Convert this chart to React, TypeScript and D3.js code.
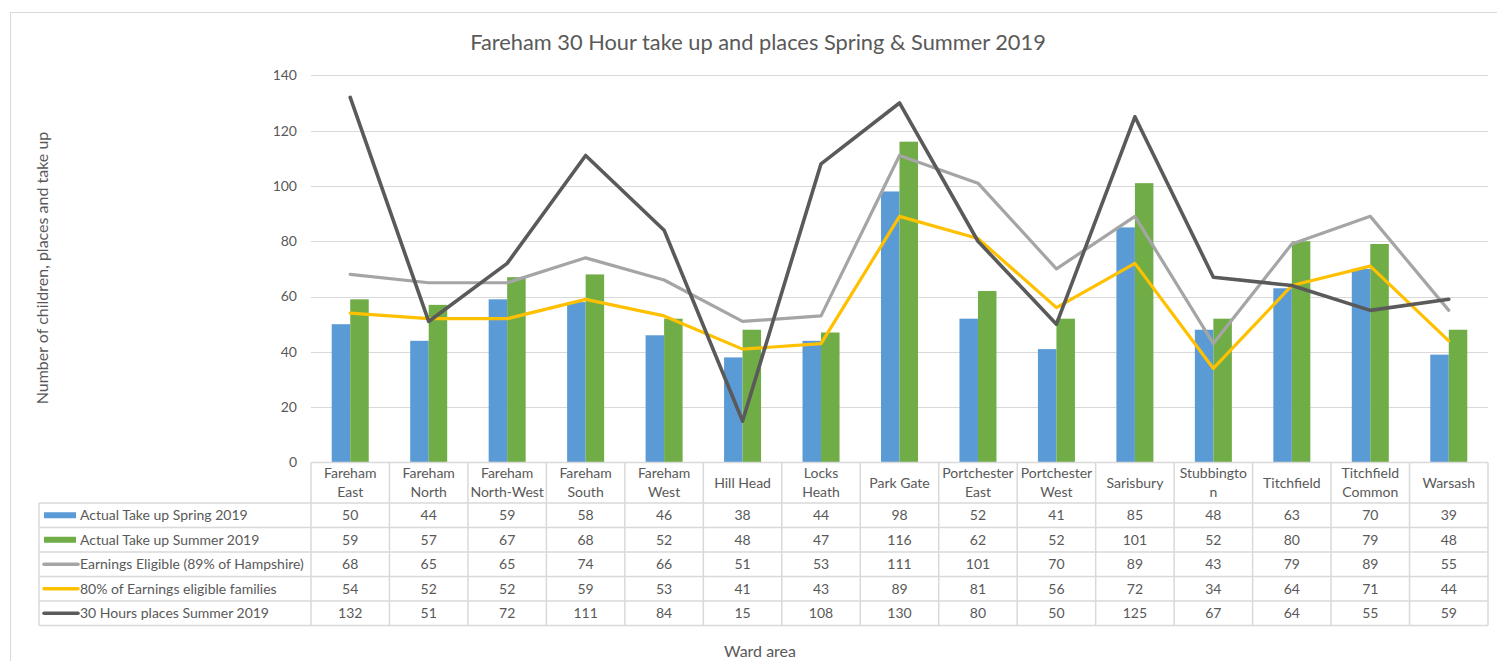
import React, { useEffect, useRef } from "react";
import * as d3 from "d3";

const categories = [
  "Fareham East",
  "Fareham North",
  "Fareham North-West",
  "Fareham South",
  "Fareham West",
  "Hill Head",
  "Locks Heath",
  "Park Gate",
  "Portchester East",
  "Portchester West",
  "Sarisbury",
  "Stubbington",
  "Titchfield",
  "Titchfield Common",
  "Warsash",
];
// how Excel wrapped the labels in the table header
const categoryLines = [
  ["Fareham", "East"],
  ["Fareham", "North"],
  ["Fareham", "North-West"],
  ["Fareham", "South"],
  ["Fareham", "West"],
  ["Hill Head"],
  ["Locks", "Heath"],
  ["Park Gate"],
  ["Portchester", "East"],
  ["Portchester", "West"],
  ["Sarisbury"],
  ["Stubbingto", "n"],
  ["Titchfield"],
  ["Titchfield", "Common"],
  ["Warsash"],
];

const spring = [50, 44, 59, 58, 46, 38, 44, 98, 52, 41, 85, 48, 63, 70, 39];
const summer = [59, 57, 67, 68, 52, 48, 47, 116, 62, 52, 101, 52, 80, 79, 48];
const eligible = [68, 65, 65, 74, 66, 51, 53, 111, 101, 70, 89, 43, 79, 89, 55];
const eligible80 = [54, 52, 52, 59, 53, 41, 43, 89, 81, 56, 72, 34, 64, 71, 44];
const places = [132, 51, 72, 111, 84, 15, 108, 130, 80, 50, 125, 67, 64, 55, 59];

const yTicks = [0, 20, 40, 60, 80, 100, 120, 140];

const seriesNames = [
  "Actual Take up Spring 2019",
  "Actual Take up Summer 2019",
  "Earnings Eligible (89% of Hampshire)",
  "80% of Earnings eligible families",
  "30 Hours places Summer 2019",
];

const W = 1497;
const H = 661;
const FONT = "Lato, 'Open Sans', sans-serif";
const TXT = "#595959";
const GRID = "#d9d9d9";
const FS = 14;

const App = () => {
  const ref = useRef<SVGSVGElement>(null);

  useEffect(() => {
    const svg = d3.select(ref.current);
    svg.selectAll("*").remove();
    svg.attr("font-family", FONT);

    const plotL = 311;
    const plotR = 1488;
    const yTop = 75.3;
    const y0 = 462.5;

    const x = d3.scaleBand().domain(categories).range([plotL, plotR]);
    const x1 = d3
      .scaleBand()
      .domain(["spring", "summer"])
      .range([0, x.bandwidth()])
      .paddingOuter(1.12);
    const y = d3.scaleLinear().domain([0, 140]).range([y0, yTop]);

    // chart frame
    svg
      .append("rect")
      .attr("x", 10.5)
      .attr("y", 12.5)
      .attr("width", W)
      .attr("height", H)
      .attr("fill", "white")
      .attr("stroke", GRID);

    // title
    svg
      .append("text")
      .attr("x", 758)
      .attr("y", 50)
      .attr("text-anchor", "middle")
      .attr("font-size", 21.8)
      .attr("fill", TXT)
      .text("Fareham 30 Hour take up and places Spring & Summer 2019");

    // grid + y ticks
    const g = svg.append("g");
    g.selectAll("line.grid")
      .data(yTicks.filter((d) => d > 0))
      .join("line")
      .attr("x1", plotL)
      .attr("x2", plotR)
      .attr("y1", (d) => Math.round(y(d)) + 0.5)
      .attr("y2", (d) => Math.round(y(d)) + 0.5)
      .attr("stroke", GRID)
      .attr("stroke-width", 1);

    g.selectAll("text.tick")
      .data(yTicks)
      .join("text")
      .attr("x", 297)
      .attr("y", (d) => y(d))
      .attr("dy", "0.35em")
      .attr("text-anchor", "end")
      .attr("font-size", FS)
      .attr("fill", TXT)
      .text((d) => d);

    // axis titles
    svg
      .append("text")
      .attr("transform", `translate(48,268) rotate(-90)`)
      .attr("text-anchor", "middle")
      .attr("font-size", 16)
      .attr("fill", TXT)
      .text("Number of children, places and take up");

    svg
      .append("text")
      .attr("x", 760)
      .attr("y", 657)
      .attr("text-anchor", "middle")
      .attr("font-size", 16)
      .attr("fill", TXT)
      .text("Ward area");

    // bars
    const barData = categories.flatMap((c, i) => [
      { c, k: "spring", v: spring[i], col: "#5b9bd5" },
      { c, k: "summer", v: summer[i], col: "#70ad47" },
    ]);
    svg
      .append("g")
      .selectAll("rect")
      .data(barData)
      .join("rect")
      .attr("x", (d) => (x(d.c) as number) + (x1(d.k) as number))
      .attr("width", x1.bandwidth())
      .attr("y", (d) => y(d.v))
      .attr("height", (d) => y0 - y(d.v))
      .attr("fill", (d) => d.col);

    // lines
    const line = d3
      .line<number>()
      .x((d, i) => (x(categories[i]) as number) + x.bandwidth() / 2)
      .y((d) => y(d));

    const lineSeries = [
      { vals: eligible, col: "#a5a5a5", w: 3.2 },
      { vals: eligible80, col: "#ffc000", w: 3.2 },
      { vals: places, col: "#5a5a5a", w: 3.6 },
    ];
    svg
      .append("g")
      .selectAll("path")
      .data(lineSeries)
      .join("path")
      .attr("d", (d) => line(d.vals))
      .attr("fill", "none")
      .attr("stroke", (d) => d.col)
      .attr("stroke-width", (d) => d.w)
      .attr("stroke-linejoin", "round")
      .attr("stroke-linecap", "round");

    // data table
    const tL = 39;
    const headTop = y0;
    const headBot = 503;
    const rowH = 24.5;
    const nRows = seriesNames.length;
    const tBot = headBot + nRows * rowH;
    const t = svg.append("g").attr("stroke", GRID).attr("stroke-width", 1.5);

    t.append("line").attr("x1", plotL).attr("x2", plotR).attr("y1", headTop).attr("y2", headTop);
    d3.range(nRows + 1).forEach((r) => {
      const yy = headBot + r * rowH;
      t.append("line").attr("x1", tL).attr("x2", plotR).attr("y1", yy).attr("y2", yy);
    });
    categories.forEach((c) => {
      const xx = x(c) as number;
      t.append("line").attr("x1", xx).attr("x2", xx).attr("y1", headTop).attr("y2", tBot);
    });
    t.append("line").attr("x1", plotR).attr("x2", plotR).attr("y1", headTop).attr("y2", tBot);
    t.append("line").attr("x1", tL).attr("x2", tL).attr("y1", headBot).attr("y2", tBot);

    // header labels
    const hdr = svg.append("g").attr("font-size", FS).attr("fill", TXT).attr("text-anchor", "middle");
    categories.forEach((c, i) => {
      const lines = categoryLines[i];
      const cx = (x(c) as number) + x.bandwidth() / 2;
      const mid = (headTop + headBot) / 2;
      lines.forEach((ln, j) => {
        hdr
          .append("text")
          .attr("x", cx)
          .attr("y", mid + (j - (lines.length - 1) / 2) * 18.5)
          .attr("dy", "0.35em")
          .text(ln);
      });
    });

    // rows
    const rowVals = [spring, summer, eligible, eligible80, places];
    const keyCols = ["#5b9bd5", "#70ad47", "#a5a5a5", "#ffc000", "#5a5a5a"];
    const body = svg.append("g").attr("font-size", FS).attr("fill", TXT);
    rowVals.forEach((vals, r) => {
      const cy = headBot + r * rowH + rowH / 2;
      if (r < 2) {
        body
          .append("rect")
          .attr("x", 44)
          .attr("y", cy - 3)
          .attr("width", 32)
          .attr("height", 6)
          .attr("fill", keyCols[r]);
      } else {
        body
          .append("line")
          .attr("x1", 44)
          .attr("x2", 78)
          .attr("y1", cy)
          .attr("y2", cy)
          .attr("stroke", keyCols[r])
          .attr("stroke-width", 3.5)
          .attr("stroke-linecap", "round");
      }
      body
        .append("text")
        .attr("x", 80)
        .attr("y", cy)
        .attr("dy", "0.35em")
        .text(seriesNames[r]);
      vals.forEach((v, i) => {
        body
          .append("text")
          .attr("x", (x(categories[i]) as number) + x.bandwidth() / 2)
          .attr("y", cy)
          .attr("dy", "0.35em")
          .attr("text-anchor", "middle")
          .text(v);
      });
    });
  }, []);

  return (
    <div style={{ position: "absolute", left: 0, top: 0, width: W, height: H, overflow: "hidden" }}>
      <svg ref={ref} width={W} height={H} style={{ display: "block" }}></svg>
    </div>
  );
};

export default App;
